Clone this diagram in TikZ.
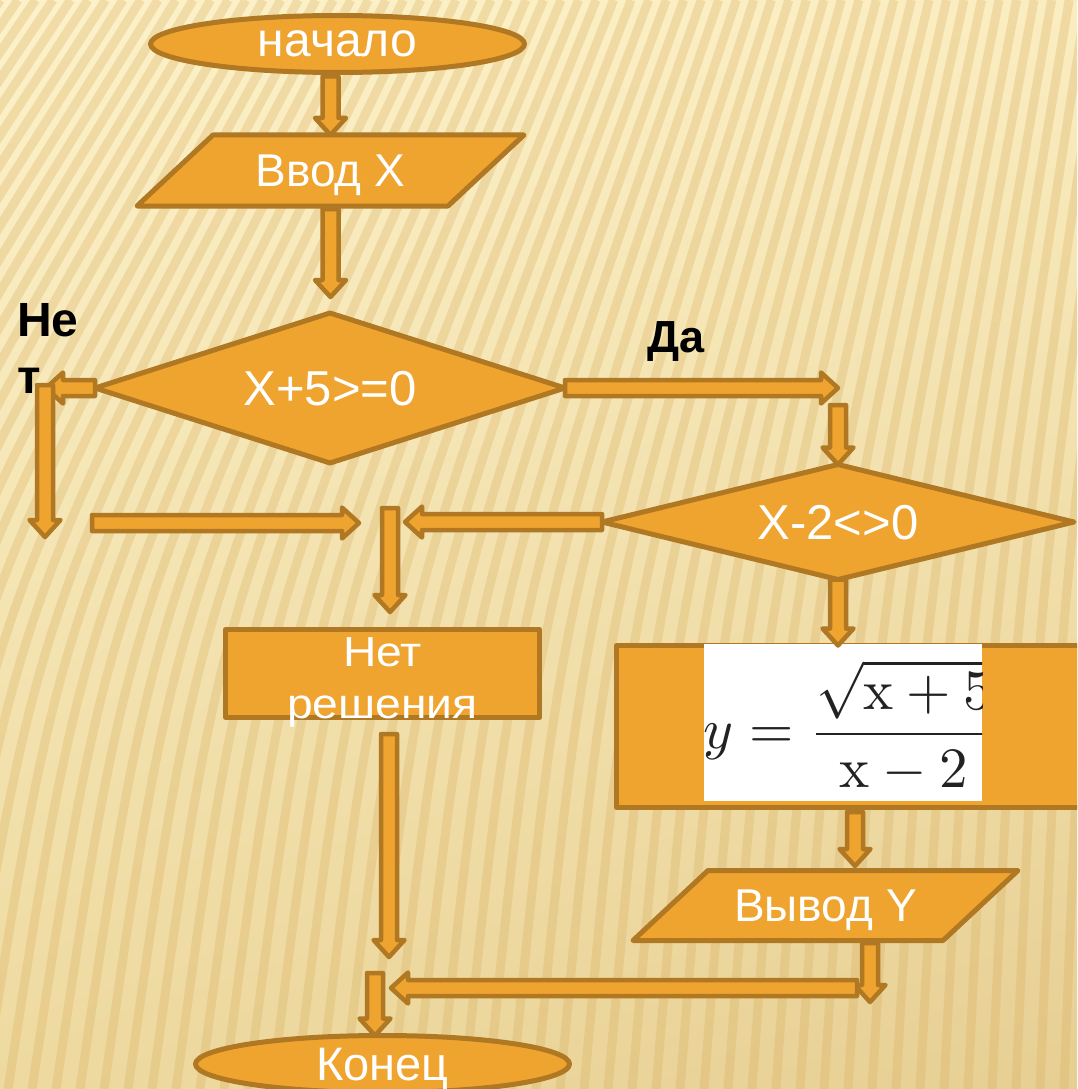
\documentclass[tikz,border=0pt]{standalone}
\usepackage[no-math]{fontspec}
\setmainfont{Liberation Sans}
\usepackage{graphicx}
\usetikzlibrary{shapes.geometric,calc,shadings}
\definecolor{fillor}{HTML}{EFA430}
\definecolor{edge}{HTML}{B07822}
\definecolor{bgUL}{HTML}{FCF1C9}
\definecolor{bgUR}{HTML}{FAEDC0}
\definecolor{bgLL}{HTML}{EEDAA0}
\definecolor{bgLR}{HTML}{E7CF93}
\definecolor{stripec}{HTML}{D9AE5E}
\definecolor{ink}{HTML}{222222}
\newcommand\fs[2]{\fontsize{#1}{#2}\selectfont}
% block arrow from #1 to #2 (shaft half width 8pt, head half width 15.5pt, head length 17pt)
\newcommand\blockarrow[2]{%
  \path ($(#2)!17pt!(#1)$) coordinate (bac);
  \draw[blk] ($(#1)!8pt!90:(#2)$) -- ($(bac)!8pt!-90:(#1)$) -- ($(bac)!15.5pt!-90:(#1)$)
     -- (#2) -- ($(bac)!15.5pt!90:(#1)$) -- ($(bac)!8pt!90:(#1)$) -- ($(#1)!8pt!-90:(#2)$) -- cycle;
}
\begin{document}
\begin{tikzpicture}[x=1pt,y=-1pt,
  shp/.style={fill=fillor, draw=edge, line width=5pt, line join=round, text=white,
              inner sep=0pt, outer sep=0pt, text depth=0pt},
  txt/.style={text=white, inner sep=0pt, outer sep=0pt, text depth=0pt},
  blk/.style={fill=fillor, draw=edge, line width=4.5pt, line join=round},
  stripe/.style={draw=stripec, line width=9pt, opacity=0.3},
  lbl/.style={text=black, inner sep=0pt, outer sep=0pt}]
\useasboundingbox (0,0) rectangle (1077,1089);
\clip (0,0) rectangle (1077,1089);
% background
\shade[upper left=bgUL, upper right=bgUR, lower left=bgLL, lower right=bgLR] (0,0) rectangle (1077,1089);
\foreach \b in {-520,-496,...,1100} {
  \pgfmathsetmacro\S{380-0.27*(\b)}
  \pgfmathsetmacro\Ca{\b+0.2*\S}
  \pgfmathsetmacro\Tp{\b+\S}
  \draw[stripe] (\b,1089) .. controls (\Ca,600) .. (\Tp,0);
}
% shapes
\node[shp, ellipse, minimum width=374pt, minimum height=57pt, font=\fs{48}{58}] (start) at (337.5,44) {начало};
\draw[shp] (137,206) -- (213,135) -- (524,135) -- (448,206) -- cycle;
\node[txt, minimum width=387pt, minimum height=71pt, font=\fs{46}{55}] (inp) at (330.5,170.5) {Ввод X};
\node[shp, diamond, aspect=3.1, minimum width=470pt, minimum height=150pt, font=\fs{49}{58}] (d1) at (330,388) {X+5>=0};
\node[shp, diamond, aspect=4, minimum width=472pt, minimum height=115pt, font=\fs{49}{58}] (d2) at (838,522) {X-2<>0};
\node[shp, rectangle, minimum width=314pt, minimum height=88pt,
  label={[txt, align=center, font=\fs{42}{52}, yshift=-4.9pt]center:\scalebox{1.1}[1]{Нет}\\\scalebox{1.1}[1]{решения}}] (nosol) at (382.5,673.5) {};
\node[shp, rectangle, minimum width=473pt, minimum height=162pt] (form) at (853,726.5) {};
\begin{scope}
  \clip (704,644) rectangle (982,801);
  \fill[white] (704,644) rectangle (982,801);
  \node[anchor=base west, inner sep=0pt, text=ink] (eq) at (703,748)
    {\scalebox{5.7}{$\displaystyle y=\frac{\sqrt{\mathrm{x}+5}}{\mathrm{x}-2}$}};
\end{scope}
\draw[shp] (633,940.5) -- (708,870.5) -- (1018,870.5) -- (943,940.5) -- cycle;
\node[txt, minimum width=385pt, minimum height=70pt, font=\fs{46}{55}] (outp) at (825.5,905.5) {Вывод Y};
\node[shp, ellipse, minimum width=374pt, minimum height=57pt, font=\fs{47}{56}] (fin) at (382.5,1064) {Конец};
% branch labels
\node[lbl, anchor=north west, align=left, font=\fs{48}{57}\bfseries] (no) at (17,303.6) {Не\\т};
\node[lbl, anchor=base west, font=\fs{45}{54}\bfseries] (yes) at (647,352) {Да};
% connector end points
\coordinate (a1s) at ($(start.south -| inp.north)+(0,4)$);
\coordinate (a2s) at ($(inp.south)+(0,3)$);
\coordinate (a2e) at (330.5,297);
\coordinate (a3e) at (46,388);
\coordinate (a4s) at (45,385);
\coordinate (a4e) at (45,537);
\coordinate (a5s) at (92,523);
\coordinate (a5e) at (359,523);
\coordinate (a6e) at (838,388);
\coordinate (a7s) at (838,405);
\coordinate (a8e) at (405,522);
\coordinate (a9s) at (390,508);
\coordinate (a9e) at (390,612);
\coordinate (a10e) at (d2.south |- form.north);
\coordinate (a11s) at (855,812);
\coordinate (a11e) at (855,866);
\coordinate (a12s) at (870,943);
\coordinate (a12e) at (870,1002);
\coordinate (a13s) at (857,988);
\coordinate (a13e) at (391,988);
\coordinate (a14s) at (389,734);
\coordinate (a14e) at (389,957);
\coordinate (a15s) at (375,973);
\coordinate (a15e) at (a15s |- fin.north);
% connectors
\blockarrow{a1s}{inp.north}
\blockarrow{a2s}{a2e}
\blockarrow{d1.west}{a3e}
\blockarrow{a4s}{a4e}
\blockarrow{a5s}{a5e}
\blockarrow{d1.east}{a6e}
\blockarrow{a7s}{d2.north}
\blockarrow{d2.west}{a8e}
\blockarrow{a9s}{a9e}
\blockarrow{d2.south}{a10e}
\blockarrow{a11s}{a11e}
\blockarrow{a12s}{a12e}
\blockarrow{a13s}{a13e}
\blockarrow{a14s}{a14e}
\blockarrow{a15s}{a15e}
\end{tikzpicture}
\end{document}
